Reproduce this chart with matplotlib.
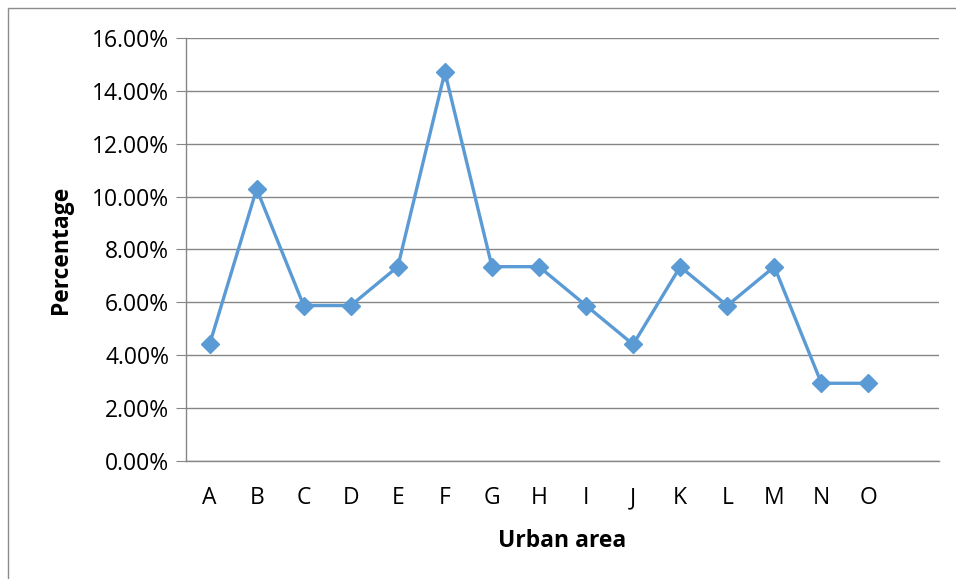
import matplotlib.pyplot as plt
from matplotlib.patches import Rectangle
from matplotlib.ticker import FuncFormatter

# share of sites per urban area (%)
areas = ["A", "B", "C", "D", "E", "F", "G", "H", "I", "J", "K", "L", "M", "N", "O"]
share = [4.41, 10.29, 5.88, 5.88, 7.35, 14.71, 7.35, 7.35, 5.88, 4.41, 7.35, 5.88, 7.35, 2.94, 2.94]

plt.rcParams['font.family'] = ['Open Sans', 'DejaVu Sans']
grid_col = '#868686'
line_col = '#5B9BD5'
fs = 16.5

fig = plt.figure(figsize=(9.56, 5.79), dpi=100)
ax = fig.add_axes([0.1946, 0.2038, 0.7877, 0.7306])

x = list(range(len(areas)))
ax.plot(x, share, color=line_col, linewidth=2.4, marker='D', markersize=9,
        markeredgecolor=line_col, markerfacecolor=line_col, zorder=3)

ax.set_xlim(-0.5, len(areas) + 0.5)
ax.set_ylim(0, 16)
ax.set_yticks(range(0, 17, 2))
ax.yaxis.set_major_formatter(FuncFormatter(lambda v, _: f"{v:.2f}%"))
ax.set_xticks(x)
ax.set_xticklabels(areas)

ax.grid(axis='y', color=grid_col, linewidth=1)
ax.set_axisbelow(True)
for side in ['top', 'right']:
    ax.spines[side].set_visible(False)
for side in ['left', 'bottom']:
    ax.spines[side].set_color(grid_col)
    ax.spines[side].set_linewidth(1)

ax.tick_params(axis='y', length=7, color=grid_col, labelsize=fs, pad=5)
ax.tick_params(axis='x', length=0, labelsize=fs, pad=18)

ax.set_ylabel("Percentage", fontsize=fs, fontweight='bold', labelpad=14)
ax.set_xlabel("Urban area", fontsize=fs, fontweight='bold', labelpad=14)

# chart frame
fig.patches.append(Rectangle((8 / 956, -0.01), 1.0, 1 - 8 / 579 + 0.01,
                             transform=fig.transFigure, fill=False,
                             edgecolor='#8c8c8c', linewidth=1))

fig.savefig("out.png", dpi=100)
